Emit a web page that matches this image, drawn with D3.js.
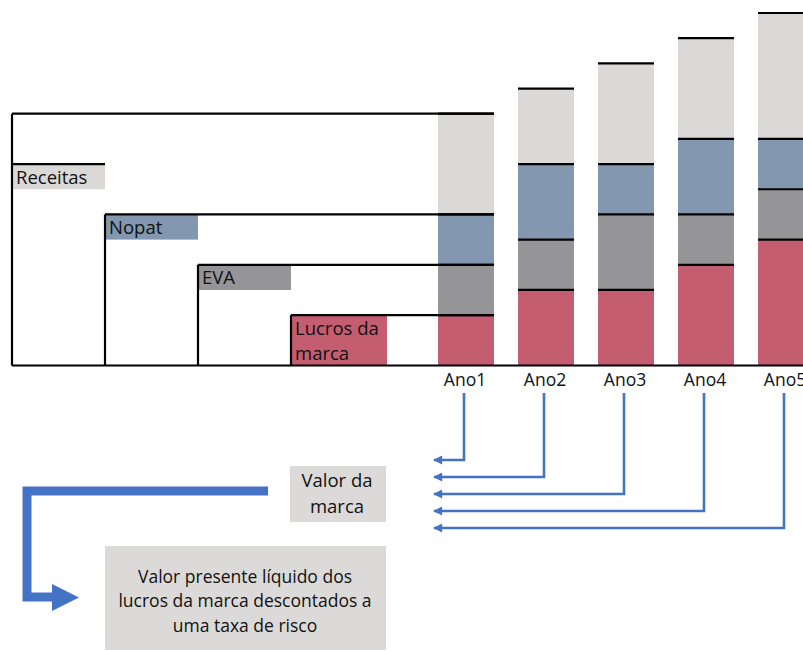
<!DOCTYPE html>
<html>
<head>
<meta charset="utf-8">
<script src="https://cdn.jsdelivr.net/npm/d3@7"></script>
<style>
  html, body { margin: 0; padding: 0; background: #fff; overflow: hidden; }
  svg { display: block; font-family: "Open Sans", "Noto Sans", sans-serif; }
</style>
</head>
<body>
<svg id="chart" width="803" height="651"></svg>
<script>
// Stacked brand-value build-up, one column per year
const years    = ["Ano1", "Ano2", "Ano3", "Ano4", "Ano5"];
const lucros   = [1, 1.5, 1.5, 2, 2.5];
const eva      = [1, 1, 1.5, 1, 1];
const nopat    = [1, 1.5, 1, 1.5, 1];
const receitas = [2, 1.5, 2, 2, 2.5];

const seriesKeys   = ["lucros", "eva", "nopat", "receitas"];
const seriesLabels = ["Lucros da marca", "EVA", "Nopat", "Receitas"];
const seriesColors = ["#c55d70", "#959598", "#8497b0", "#dbd9d7"];

const rows = years.map((y, i) => ({
  year: y, lucros: lucros[i], eva: eva[i], nopat: nopat[i], receitas: receitas[i]
}));

const svg = d3.select("#chart");
const W = 803;
const ink = "#111";

const y = d3.scaleLinear().domain([0, 7]).range([365.5, 13]);
const x = d3.scaleBand().domain(years).range([426, 826])
  .paddingInner(0.3).paddingOuter(0.15);

const stacked = d3.stack().keys(seriesKeys)(rows);
const color = d3.scaleOrdinal().domain(seriesKeys).range(seriesColors);

// Column segments
const layers = svg.append("g").selectAll("g").data(stacked).join("g")
  .attr("fill", d => color(d.key));
layers.selectAll("rect").data(d => d).join("rect")
  .attr("x", d => x(d.data.year))
  .attr("width", x.bandwidth())
  .attr("y", d => y(d[1]))
  .attr("height", d => y(d[0]) - y(d[1]));

// Black rule at the top of each segment
const rules = svg.append("g").attr("stroke", "#000").attr("stroke-width", 2.2);
stacked.forEach(layer => {
  layer.forEach(d => {
    rules.append("line")
      .attr("x1", x(d.data.year)).attr("x2", x(d.data.year) + x.bandwidth())
      .attr("y1", y(d[1])).attr("y2", y(d[1]));
  });
});

// Staircase legend built on the first year's levels
const first = rows[0];
const x0 = x(years[0]) + x.bandwidth();
const stepX = d3.scaleLinear().domain([0, 1]).range([12, 105]);
const legendSteps = [
  { key: "receitas", label: ["Receitas"], top: first.lucros + first.eva + first.nopat + first.receitas,
    mark: first.lucros + first.eva + first.nopat + first.receitas / 2, col: 0 },
  { key: "nopat", label: ["Nopat"], top: first.lucros + first.eva + first.nopat, col: 1 },
  { key: "eva", label: ["EVA"], top: first.lucros + first.eva, col: 2 },
  { key: "lucros", label: ["Lucros da", "marca"], top: first.lucros, col: 3 }
];

const legend = svg.append("g");
legendSteps.forEach(s => {
  const lx = stepX(s.col);
  const markLevel = s.mark !== undefined ? s.mark : s.top;
  const boxW = s.key === "lucros" ? 96 : stepX(1) - stepX(0);
  const boxBottom = s.key === "lucros" ? 0 : markLevel - 0.5;
  legend.append("rect")
    .attr("x", lx).attr("y", y(markLevel))
    .attr("width", boxW).attr("height", y(boxBottom) - y(markLevel))
    .attr("fill", color(s.key));
  const t = legend.append("text")
    .attr("x", lx + 4).attr("y", y(markLevel) + 19.5)
    .attr("font-size", 18.5).attr("fill", ink);
  s.label.forEach((ln, j) => t.append("tspan").attr("x", lx + 4).attr("dy", j ? 25 : 0).text(ln));
  // vertical edge
  legend.append("line").attr("x1", lx).attr("x2", lx)
    .attr("y1", y(s.top)).attr("y2", y(0))
    .attr("stroke", "#000").attr("stroke-width", 2.2);
  // horizontal rule to the first column
  legend.append("line").attr("x1", lx).attr("x2", x0)
    .attr("y1", y(s.top)).attr("y2", y(s.top))
    .attr("stroke", "#000").attr("stroke-width", 2.2);
  if (s.mark !== undefined) {
    legend.append("line").attr("x1", lx).attr("x2", stepX(1))
      .attr("y1", y(s.mark)).attr("y2", y(s.mark))
      .attr("stroke", "#000").attr("stroke-width", 2.2);
  }
});

// Baseline
svg.append("line").attr("x1", 12).attr("x2", W)
  .attr("y1", y(0)).attr("y2", y(0))
  .attr("stroke", "#000").attr("stroke-width", 2.2);

// Year labels
svg.append("g").selectAll("text").data(years).join("text")
  .attr("x", d => x(d) + x.bandwidth() / 2 - 1)
  .attr("y", 386)
  .attr("text-anchor", "middle")
  .attr("font-size", 17.5).attr("fill", ink)
  .text(d => d);

// Discount arrows from each year back to the brand value
const blue = "#4472c4";
const defs = svg.append("defs");
defs.append("marker").attr("id", "head")
  .attr("viewBox", "0 0 10 10").attr("refX", 9).attr("refY", 5)
  .attr("markerWidth", 10).attr("markerHeight", 9).attr("markerUnits", "userSpaceOnUse")
  .attr("orient", "auto")
  .append("path").attr("d", "M0,0 L10,5 L0,10 Z").attr("fill", blue);

const arrows = svg.append("g").attr("fill", "none").attr("stroke", blue).attr("stroke-width", 2.6);
years.forEach((yr, i) => {
  const cx = x(yr) + x.bandwidth() / 2 - 2;
  const ey = 460 + i * 17;
  arrows.append("path")
    .attr("d", `M${cx},393 V${ey} H434`)
    .attr("marker-end", "url(#head)");
});

// "Valor da marca" box
svg.append("rect").attr("x", 290).attr("y", 466).attr("width", 96).attr("height", 56)
  .attr("fill", "#dcdad8");
const vt = svg.append("text").attr("text-anchor", "middle").attr("font-size", 18.5).attr("fill", ink);
["Valor da", "marca"].forEach((ln, j) =>
  vt.append("tspan").attr("x", 337).attr("y", 487 + j * 26).text(ln));

// Thick elbow arrow to the explanation
svg.append("path").attr("d", "M268,491 H27 V597 H54")
  .attr("fill", "none").attr("stroke", blue).attr("stroke-width", 9);
svg.append("path").attr("d", "M52,584 L79,597.5 L52,611 Z").attr("fill", blue);

// Explanation box
svg.append("rect").attr("x", 105).attr("y", 546).attr("width", 281).attr("height", 104)
  .attr("fill", "#dcdad8");
const et = svg.append("text").attr("text-anchor", "middle").attr("font-size", 17.5).attr("fill", ink);
["Valor presente líquido dos", "lucros da marca descontados a", "uma taxa de risco"].forEach((ln, j) =>
  et.append("tspan").attr("x", 245).attr("y", 582.5 + j * 24.5).text(ln));
</script>
</body>
</html>
